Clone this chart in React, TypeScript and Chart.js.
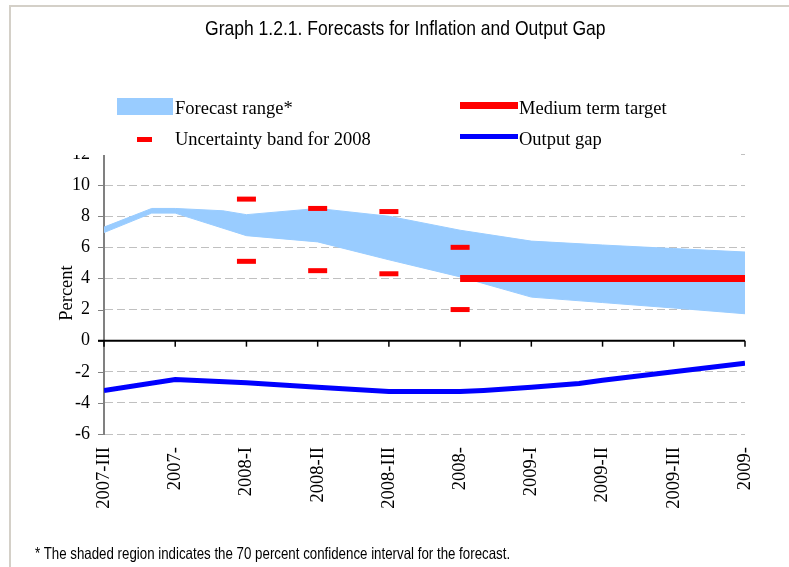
import React, { useEffect, useRef } from "react";
import { Chart, registerables } from "chart.js";
Chart.register(...registerables);

const xLabels = ["2007-III", "2007-", "2008-I", "2008-II", "2008-III", "2008-", "2009-I", "2009-II", "2009-III", "2009-"];
const yTicks = [-6, -4, -2, 0, 2, 4, 6, 8, 10, 12];

const bandUpperX = [0, 0.67, 1, 1.67, 2, 3, 4, 5, 6, 7, 8, 9];
const bandUpper = [7.3, 8.5, 8.5, 8.35, 8.1, 8.5, 8.0, 7.1, 6.4, 6.15, 5.92, 5.7];
const bandLowerX = [0, 0.67, 1, 2, 3, 4, 5, 6, 7, 8, 9];
const bandLower = [6.95, 8.2, 8.2, 6.75, 6.35, 5.2, 4.1, 2.8, 2.45, 2.1, 1.73];

const uncertaintyX = [2, 2, 3, 3, 4, 4, 5, 5];
const uncertaintyY = [9.1, 5.1, 8.5, 4.5, 8.3, 4.3, 6.0, 2.0];

const targetX = [5, 9];
const targetY = [4, 4];

const gapX = [0, 1, 2, 2.33, 3, 4, 4.33, 5, 5.33, 6, 6.67, 7, 8, 9];
const gapY = [-3.2, -2.5, -2.7, -2.8, -3.0, -3.27, -3.27, -3.27, -3.2, -3.0, -2.75, -2.55, -2.0, -1.45];

const pts = (xs: number[], ys: number[]) => xs.map((x, i) => ({ x, y: ys[i] }));

const SERIF = "'Liberation Serif', 'Times New Roman', serif";
const SANS = "'Liberation Sans', Arial, sans-serif";

const decoPlugin = {
  id: "deco",
  beforeDatasetsDraw(chart: any) {
    const { ctx, chartArea, scales } = chart;
    const xs = scales.x;
    const ys = scales.y;
    const y0 = ys.getPixelForValue(0);
    ctx.save();
    ctx.strokeStyle = "#808080";
    ctx.lineWidth = 1;
    yTicks.forEach((v) => {
      const py = Math.round(ys.getPixelForValue(v)) + 0.5;
      ctx.beginPath();
      ctx.moveTo(chartArea.left - 6, py);
      ctx.lineTo(chartArea.left, py);
      ctx.stroke();
    });
    ctx.strokeStyle = "#000";
    ctx.lineWidth = 2;
    ctx.beginPath();
    ctx.moveTo(chartArea.left - 6, y0);
    ctx.lineTo(chartArea.right, y0);
    ctx.stroke();
    ctx.lineWidth = 1.5;
    xLabels.forEach((_, i) => {
      const px = xs.getPixelForValue(i);
      ctx.beginPath();
      ctx.moveTo(px, y0);
      ctx.lineTo(px, y0 + 6);
      ctx.stroke();
    });
    ctx.restore();
  },
};

export default function App() {
  const ref = useRef<HTMLCanvasElement | null>(null);
  useEffect(() => {
    if (!ref.current) return;
    const chart = new Chart(ref.current, {
      type: "line",
      data: {
        datasets: [
          {
            label: "Output gap",
            data: pts(gapX, gapY),
            borderColor: "#0000ff",
            borderWidth: 5,
            pointRadius: 0,
            fill: false,
            tension: 0,
          },
          {
            label: "Medium term target",
            data: pts(targetX, targetY),
            borderColor: "#ff0000",
            borderWidth: 7,
            borderCapStyle: "butt",
            pointRadius: 0,
            fill: false,
          },
          {
            label: "Uncertainty band for 2008",
            data: pts(uncertaintyX, uncertaintyY),
            showLine: false,
            pointStyle: "line",
            pointRadius: 9.5,
            pointBorderWidth: 5,
            pointBorderColor: "#ff0000",
            pointBackgroundColor: "#ff0000",
            borderColor: "#ff0000",
          },
          {
            label: "Forecast range*",
            data: pts(bandUpperX, bandUpper),
            borderColor: "#99ccff",
            backgroundColor: "#99ccff",
            borderWidth: 1,
            pointRadius: 0,
            fill: "+1",
          },
          {
            label: "lower",
            data: pts(bandLowerX, bandLower),
            borderColor: "#99ccff",
            borderWidth: 1,
            pointRadius: 0,
            fill: false,
          },
        ],
      },
      options: {
        responsive: false,
        animation: false,
        devicePixelRatio: 1,
        layout: { padding: { top: 154, left: 0, right: 44, bottom: 0 } },
        plugins: { legend: { display: false }, tooltip: { enabled: false }, title: { display: false } },
        scales: {
          x: {
            type: "linear",
            min: 0,
            max: 9,
            afterFit: (s: any) => {
              s.height = 133;
            },
            afterBuildTicks: (s: any) => {
              s.ticks = xLabels.map((_, i) => ({ value: i }));
            },
            grid: { display: false, drawTicks: false },
            border: { display: false },
            ticks: {
              autoSkip: false,
              minRotation: 90,
              maxRotation: 90,
              padding: 13,
              color: "#000",
              font: { family: SERIF, size: 18.5 },
              callback: (v: any) => xLabels[Math.round(Number(v))] ?? "",
            },
          },
          y: {
            min: -6,
            max: 12,
            afterFit: (s: any) => {
              s.width = 104;
            },
            afterBuildTicks: (s: any) => {
              s.ticks = yTicks.map((v) => ({ value: v }));
            },
            grid: { color: "#c0c0c0", lineWidth: 1, drawTicks: false },
            border: { display: true, color: "#808080", width: 2, dash: [8, 4] },
            ticks: {
              padding: 14,
              color: "#000",
              font: { family: SERIF, size: 18 },
            },
          },
        },
      },
      plugins: [decoPlugin],
    });
    return () => chart.destroy();
  }, []);

  const legendText: React.CSSProperties = {
    position: "absolute",
    fontFamily: SERIF,
    fontSize: 18.5,
    lineHeight: "20px",
    whiteSpace: "nowrap",
    color: "#000",
  };

  return (
    <div style={{ position: "absolute", left: 0, top: 0, width: 789, height: 567, overflow: "hidden", background: "#fff" }}>
      <canvas ref={ref} width={789} height={567} style={{ position: "absolute", left: 0, top: 0, width: 789, height: 567 }} />
      <div style={{ position: "absolute", left: 9, top: 5, width: 800, height: 600, borderTop: "2px solid #d4d0c8", borderLeft: "2px solid #d4d0c8" }} />
      <div style={{ position: "absolute", left: 205, top: 17, fontFamily: SANS, fontSize: 21, lineHeight: "21px", whiteSpace: "nowrap", color: "#000", transform: "scaleX(0.835)", transformOrigin: "0 0" }}>
        Graph 1.2.1. Forecasts for Inflation and Output Gap
      </div>
      <div style={{ position: "absolute", left: 60, top: 70, width: 680, height: 85, background: "#fff" }} />
      <div style={{ position: "absolute", left: 117, top: 98, width: 56, height: 17, background: "#99ccff" }} />
      <div style={{ ...legendText, left: 175, top: 98 }}>Forecast range*</div>
      <div style={{ position: "absolute", left: 460, top: 102, width: 58, height: 7, background: "#ff0000" }} />
      <div style={{ ...legendText, left: 519, top: 98 }}>Medium term target</div>
      <div style={{ position: "absolute", left: 137, top: 137, width: 15, height: 5, background: "#ff0000" }} />
      <div style={{ ...legendText, left: 175, top: 129 }}>Uncertainty band for 2008</div>
      <div style={{ position: "absolute", left: 460, top: 134, width: 58, height: 5, background: "#0000ff" }} />
      <div style={{ ...legendText, left: 519, top: 129 }}>Output gap</div>
      <div
        style={{
          position: "absolute",
          left: 66 - 40,
          top: 293 - 10,
          width: 80,
          height: 20,
          lineHeight: "20px",
          textAlign: "center",
          transform: "rotate(-90deg)",
          fontFamily: SERIF,
          fontSize: 18.5,
          color: "#000",
        }}
      >
        Percent
      </div>
      <div style={{ position: "absolute", left: 35, top: 545, fontFamily: SANS, fontSize: 16.5, lineHeight: "16.5px", whiteSpace: "nowrap", color: "#000", transform: "scaleX(0.806)", transformOrigin: "0 0" }}>
        * The shaded region indicates the 70 percent confidence interval for the forecast.
      </div>
    </div>
  );
}
